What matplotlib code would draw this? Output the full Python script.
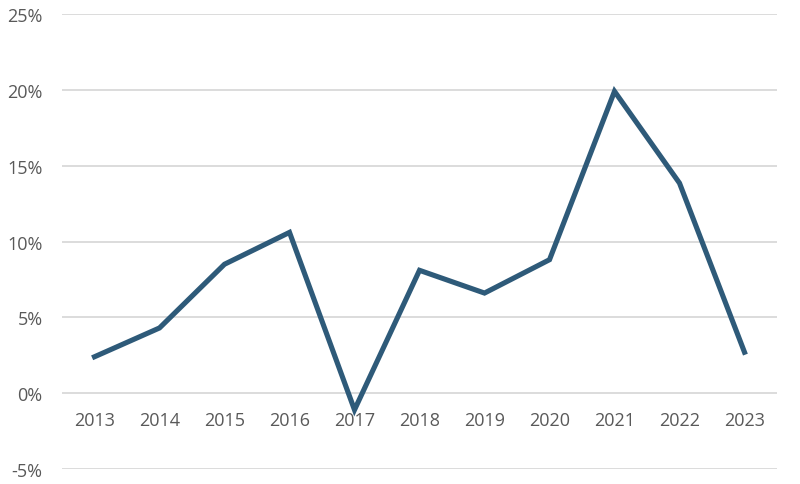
import numpy as np
import matplotlib
matplotlib.use("Agg")
from matplotlib import pyplot as plt
from matplotlib.ticker import FuncFormatter

years = ["2013", "2014", "2015", "2016", "2017", "2018", "2019", "2020", "2021", "2022", "2023"]
growth = [2.4, 4.3, 8.5, 10.6, -1.1, 8.1, 6.6, 8.8, 19.9, 13.85, 2.7]

plt.rcParams["font.family"] = ["Open Sans", "DejaVu Sans"]
label_color = "#595959"
line_color = "#2E5A79"

fig = plt.figure(figsize=(8, 4.85), dpi=100)
ax = fig.add_axes([62 / 800, 15 / 485, (777 - 62) / 800, (470 - 15) / 485])

x = np.arange(len(years))
ax.plot(x, growth, color=line_color, linewidth=3.7, solid_joinstyle="miter", zorder=3)

ax.set_xlim(-0.5, len(years) - 0.5)
ax.set_ylim(-5, 25)
ax.set_yticks(np.arange(-5, 26, 5))
ax.yaxis.set_major_formatter(FuncFormatter(lambda v, _: f"{v:.0f}%"))
ax.grid(axis="y", color="#D9D9D9", linewidth=1.3, zorder=0)
ax.set_xticks([])
ax.tick_params(axis="y", length=0, pad=14, labelsize=13, labelcolor=label_color)
for s in ax.spines.values():
    s.set_visible(False)

# category labels sit just under the zero line, Excel style
for xi, yr in zip(x, years):
    ax.annotate(yr, (xi, 0), xytext=(0, -27), textcoords="offset pixels",
                ha="center", va="center", fontsize=13, color=label_color)

fig.savefig("out.png", dpi=100)
